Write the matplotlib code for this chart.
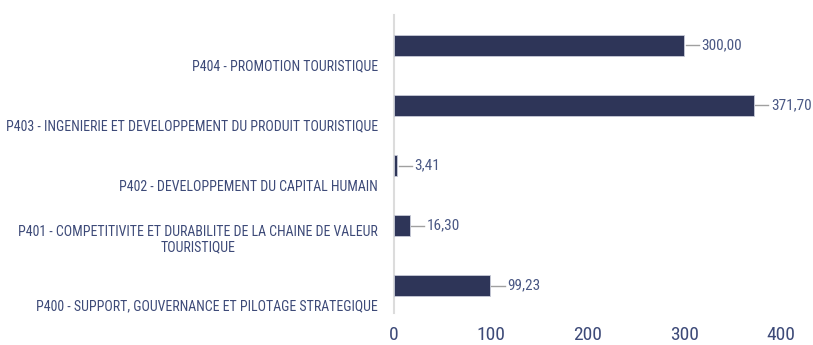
import matplotlib
matplotlib.use("Agg")
import matplotlib.pyplot as plt
from matplotlib.transforms import ScaledTranslation

# Données : programmes et montants
programmes = [
    "P400 - SUPPORT, GOUVERNANCE ET PILOTAGE STRATEGIQUE",
    "P401 - COMPETITIVITE ET DURABILITE DE LA CHAINE DE VALEUR\nTOURISTIQUE",
    "P402 - DEVELOPPEMENT DU CAPITAL HUMAIN",
    "P403 - INGENIERIE ET DEVELOPPEMENT DU PRODUIT TOURISTIQUE",
    "P404 - PROMOTION TOURISTIQUE",
]
montants = [99.23, 16.30, 3.41, 371.70, 300.00]
graduations = [0, 100, 200, 300, 400]

plt.rcParams["font.family"] = ["Roboto Condensed", "DejaVu Sans"]

BLEU = "#2e3558"
TEXTE = "#3d4a78"

fig = plt.figure(figsize=(8.13, 3.45), dpi=100)
ax = fig.add_axes([394 / 813, 32 / 345, 387 / 813, 298 / 345])

pos = list(range(len(programmes)))
decal = 0.325
ax.barh([p + decal for p in pos], montants, height=0.35, color=BLEU,
        edgecolor="#c8cbd8", linewidth=0.6, zorder=3)

# étiquettes de valeur avec petit trait de rappel
for p, v in zip(pos, montants):
    y = p + decal
    ax.plot([v + 1.5, v + 15], [y, y], color="#a0a0a0", lw=1.0,
            clip_on=False, zorder=2)
    ax.text(v + 18, y, f"{v:.2f}".replace(".", ","), va="center",
            ha="left", fontsize=11, color="#4a5884", clip_on=False)

ax.set_xlim(0, 400)
ax.set_ylim(-0.133, 4.833)
ax.set_xticks(graduations)
ax.set_xticklabels([str(g) for g in graduations], fontsize=14, color=TEXTE)
ax.set_yticks(pos)
ax.set_yticklabels(programmes, fontsize=10, color=TEXTE, ha="right",
                   multialignment="center", linespacing=1.15)
ax.tick_params(axis="both", length=0)
ax.tick_params(axis="x", pad=9)
ax.tick_params(axis="y", pad=11.5)

# le libellé sur deux lignes remonte un peu
lab = ax.get_yticklabels()[1]
lab.set_transform(lab.get_transform() + ScaledTranslation(0, 0.08, fig.dpi_scale_trans))

for s in ["top", "right", "bottom"]:
    ax.spines[s].set_visible(False)
ax.spines["left"].set_color("#dcdcdc")
ax.spines["left"].set_linewidth(1.5)

fig.savefig("out.png", dpi=100, facecolor="white")
